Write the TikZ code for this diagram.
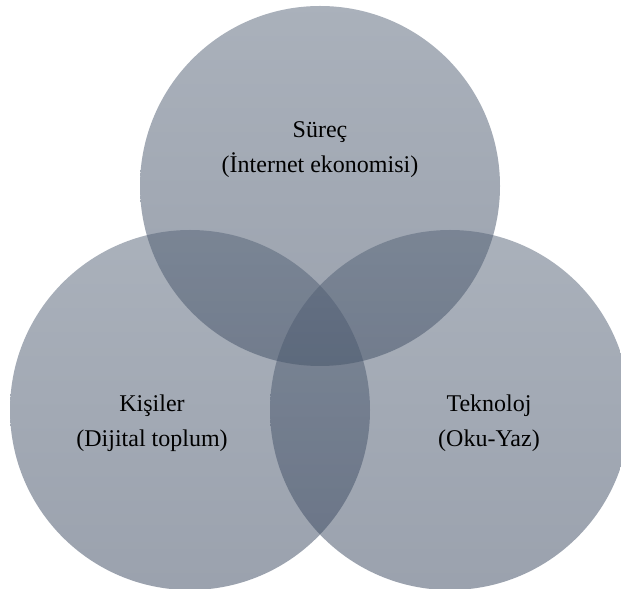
\documentclass[tikz,border=0pt]{standalone}
\usepackage{fontspec}
\setmainfont{Liberation Serif}
\definecolor{slatetop}{RGB}{85,99,119}
\definecolor{slatebot}{RGB}{55,69,93}
\tikzset{
    venn/.style={top color=slatetop, bottom color=slatebot, opacity=0.5},
    vennlabel/.style={align=center, font=\fontsize{24}{35}\selectfont, text=black}
}
\begin{document}
\begin{tikzpicture}[x=1pt,y=1pt]
        \useasboundingbox (0,0) rectangle (621,589);
        \clip (0,0) rectangle (621,589);

        % Three overlapping circles
        \foreach \cx/\cy in {320/403, 190/179, 450/179} {
            \shade[venn] (\cx,\cy) circle (180);
        }

        % Labels inside the circles
        \node[vennlabel] (surec) at (320,439) {Süreç\\(İnternet ekonomisi)};
        \node[vennlabel] (kisiler) at (152,166) {Kişiler\\(Dijital toplum)};
        \node[vennlabel] (teknoloj) at (489,166) {Teknoloj\\(Oku-Yaz)};
\end{tikzpicture}
\end{document}
